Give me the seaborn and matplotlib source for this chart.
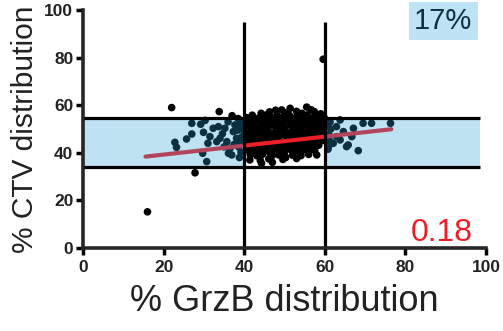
import matplotlib
matplotlib.use("Agg")
import matplotlib.pyplot as plt
import seaborn as sns
import pandas as pd
from matplotlib.patches import Rectangle

# ---- data ----
gzb = [
    # top sparse
    42.0, 44.2, 46.3, 47.8, 49.3, 51.4, 53.0, 55.5, 57.4, 59.0, 45.5, 50.2, 54.3, 56.6,
    # row ~55
    40.6, 42.1, 43.6, 45.1, 46.7, 48.1, 49.6, 51.2, 52.6, 54.1, 55.6, 57.1, 58.6, 59.9,
    # row ~53
    40.1, 41.5, 43.0, 44.6, 46.0, 47.5, 49.1, 50.5, 52.0, 53.6, 55.0, 56.5, 58.1, 59.5, 61.0,
    # row ~51
    39.6, 41.0, 42.6, 44.0, 45.5, 47.1, 48.5, 50.0, 51.6, 53.0, 54.5, 56.1, 57.5, 59.0, 60.4,
    # row ~49
    40.0, 41.6, 43.1, 44.5, 46.0, 47.6, 49.0, 50.5, 52.1, 53.5, 55.0, 56.6, 58.0, 59.6,
    # row ~47
    39.5, 41.1, 42.5, 44.1, 45.5, 47.0, 48.6, 50.1, 51.5, 53.1, 54.6, 56.0, 57.6, 59.1,
    # row ~45
    40.1, 41.5, 43.0, 44.6, 46.1, 47.5, 49.0, 50.6, 52.0, 53.5, 55.1, 56.5, 58.1, 59.5,
    # row ~43
    40.5, 42.0, 43.6, 45.0, 46.5, 48.1, 49.5, 51.0, 52.6, 54.0, 55.5, 57.1, 58.5,
    # row ~41
    41.0, 42.6, 44.0, 45.5, 47.1, 48.5, 50.0, 51.6, 53.0, 54.6, 56.0, 57.5,
    # row ~39
    41.5, 43.1, 44.6, 47.0, 48.6, 50.1, 52.0, 54.1, 56.0, 58.0,
    # row ~37 / 35
    41.4, 44.0, 46.1, 49.6, 53.0, 44.3, 47.0,
    # in-between fillers
    41.8, 44.9, 48.2, 51.9, 55.3, 58.3, 42.9, 46.4, 50.3, 53.8, 57.2, 43.3, 47.3, 52.3, 56.2,
    # extras / outliers
    37.0, 33.8, 22.0, 27.8, 16.0, 59.6, 38.5, 39.0, 38.4, 39.0, 38.6, 39.2, 38.8,
    # left side
    22.8, 23.2, 25.7, 27.0, 27.0, 29.2, 29.9, 29.7, 30.7, 31.5, 30.3, 32.3, 33.6, 34.0,
    33.2, 35.2, 35.7, 36.1, 36.9, 36.5, 37.3, 37.7, 38.1, 36.0, 37.5, 34.6, 31.0, 35.0,
    # right side
    61.3, 62.9, 63.8, 67.1, 69.5, 71.6, 76.3, 66.7, 65.8, 68.3, 62.9, 62.1, 63.8, 61.0,
    61.2, 61.0, 64.6, 65.4, 61.5, 60.8,
]
ctv = [
    55.8, 56.6, 57.2, 57.9, 58.0, 58.7, 57.4, 59.2, 57.3, 56.4, 55.9, 56.8, 56.6, 58.1,
    54.8, 55.2, 54.6, 55.4, 54.9, 55.6, 55.1, 55.8, 54.7, 55.3, 55.9, 54.8, 55.2, 54.6,
    53.2, 52.7, 53.4, 52.9, 53.5, 52.8, 53.1, 53.6, 52.6, 53.3, 52.9, 53.4, 52.8, 53.1, 52.5,
    50.8, 51.3, 50.6, 51.2, 50.9, 51.5, 50.7, 51.1, 51.4, 50.6, 51.2, 50.9, 51.3, 50.7, 51.0,
    49.2, 48.7, 49.4, 48.9, 49.1, 48.6, 49.3, 48.8, 49.2, 49.5, 48.7, 49.0, 49.4, 48.8,
    46.8, 47.2, 46.6, 47.3, 46.9, 47.1, 46.7, 47.4, 46.8, 47.0, 47.3, 46.6, 47.1, 46.9,
    45.1, 44.7, 45.3, 44.8, 45.0, 45.4, 44.6, 45.2, 44.9, 45.3, 44.7, 45.1, 44.8, 45.2,
    43.2, 42.8, 43.1, 42.6, 43.3, 42.9, 43.0, 42.7, 43.4, 42.8, 43.1, 42.9, 43.2,
    41.1, 40.7, 41.3, 40.9, 41.0, 41.4, 40.6, 41.2, 40.8, 41.1, 40.7, 41.0,
    39.2, 38.8, 39.4, 38.9, 39.1, 38.6, 39.0, 38.8, 39.3, 39.1,
    37.0, 36.8, 37.4, 37.2, 37.6, 35.6, 36.0,
    54.0, 52.1, 50.0, 48.0, 46.0, 44.1, 42.0, 40.0, 38.0, 46.1, 50.1, 48.1, 44.0, 52.0, 42.1,
    55.6, 57.3, 59.0, 31.6, 15.2, 79.3, 54.4, 52.0, 49.5, 45.0, 42.5, 40.3, 38.0,
    44.4, 42.3, 45.8, 47.9, 52.4, 52.0, 48.6, 39.8, 36.3, 46.8, 53.6, 50.3, 51.0, 46.1,
    44.7, 50.3, 44.7, 39.8, 39.1, 41.9, 48.9, 51.7, 46.1, 53.0, 43.5, 48.0, 44.0, 42.5,
    53.0, 51.0, 53.8, 50.3, 52.4, 52.4, 52.4, 46.8, 43.3, 40.9, 46.8, 44.0, 45.4, 47.7,
    44.9, 43.0, 48.9, 42.6, 50.0, 41.5,
]
fit_x = [15.5, 76.5]
fit_y = [38.4, 49.9]
gate_x = [40, 60]          # vertical gates
band_y = [34.0, 54.6]      # horizontal band
band_x_end = 98.5
gate_top = 95
xticks = [0, 20, 40, 60, 80, 100]
yticks = [0, 20, 40, 60, 80, 100]
pct_label = "17%"
slope_label = "0.18"

df = pd.DataFrame({"gzb": gzb, "ctv": ctv})
fit = pd.DataFrame({"x": fit_x, "y": fit_y})

sns.set_style("ticks")
plt.rcParams["font.family"] = ["Liberation Sans", "DejaVu Sans"]

fig = plt.figure(figsize=(5.03, 3.31), dpi=100)
ax = fig.add_axes([83 / 503, 83 / 331, 403 / 503, 238 / 331])

sns.scatterplot(data=df, x="gzb", y="ctv", ax=ax, color="black", s=30,
                edgecolor="none", linewidth=0, zorder=2, legend=False)
sns.lineplot(data=fit, x="x", y="y", ax=ax, color="#ea1f28", linewidth=3,
             zorder=3, legend=False)

# translucent band outside the gates
ov_color = "#2aa0d6"
ax.add_patch(Rectangle((0, band_y[0]), gate_x[0], band_y[1] - band_y[0],
                       facecolor=ov_color, alpha=0.3, edgecolor="none", zorder=4))
ax.add_patch(Rectangle((gate_x[1], band_y[0]), band_x_end - gate_x[1],
                       band_y[1] - band_y[0],
                       facecolor=ov_color, alpha=0.3, edgecolor="none", zorder=4))

for yv in band_y:
    ax.plot([0, band_x_end], [yv, yv], color="black", lw=2.3, zorder=5,
            solid_capstyle="butt")
for xv in gate_x:
    ax.plot([xv, xv], [0, gate_top], color="black", lw=2.3, zorder=5,
            solid_capstyle="butt")

ax.set_xlim(0, 100)
ax.set_ylim(0, 100)
ax.set_xticks(xticks)
ax.set_yticks(yticks)
ax.set_xticklabels([str(t) for t in xticks], fontweight="bold", fontsize=12.5,
                   color="#222222")
ax.set_yticklabels([str(t) for t in yticks], fontweight="bold", fontsize=12.5,
                   color="#222222")
ax.tick_params(axis="both", length=5, width=2.5, color="black")
ax.tick_params(axis="x", pad=4)
ax.tick_params(axis="y", pad=2)
for side in ["left", "bottom"]:
    ax.spines[side].set_linewidth(2.6)
    ax.spines[side].set_zorder(6)
sns.despine(ax=ax)

ax.set_xlabel("% GrzB distribution", fontsize=26, color="#222222", labelpad=6)
ax.set_ylabel("% CTV distribution", fontsize=21.5, color="#222222", labelpad=4)

ax.text(96.6, 92, pct_label, fontsize=21, color="#0f3040", ha="right",
        va="baseline", zorder=7,
        bbox=dict(boxstyle="square,pad=0.18", facecolor="#bee3f4",
                  edgecolor="none"))
ax.text(96.8, 3, slope_label, fontsize=23, color="#ea1f28", ha="right",
        va="baseline", zorder=7)

fig.savefig("out.png", dpi=100)
